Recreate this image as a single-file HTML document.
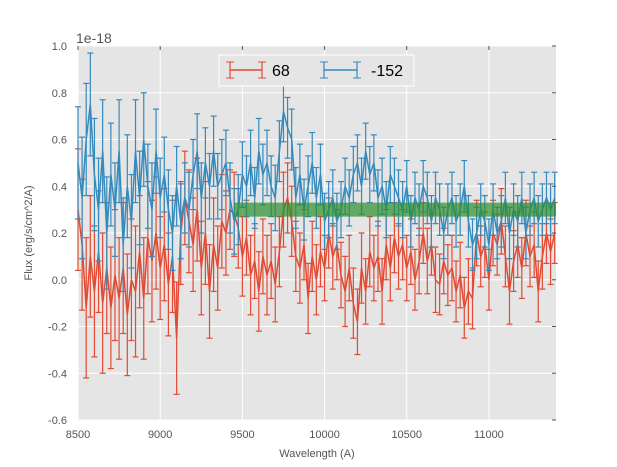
<!DOCTYPE html>
<html><head><meta charset="utf-8"><style>
body{margin:0;background:#fff;}
svg{display:block;font-family:"Liberation Sans",sans-serif;}
</style></head><body>
<svg id="chart" width="617" height="467">
<rect x="78" y="46" width="478" height="374" fill="#e5e5e5"/>
<g id="grid"></g>
<g id="marks"></g>
<g id="axes"></g>
<g>
<rect x="219" y="55" width="195" height="31" fill="#e5e5e5" stroke="#fff" stroke-width="1"/>
<g>
<line x1="230" y1="70" x2="262" y2="70" stroke="#E24A33" stroke-width="1.5"/>
<line x1="230" y1="62" x2="230" y2="78" stroke="#E24A33" stroke-width="1.2"/>
<line x1="262" y1="62" x2="262" y2="78" stroke="#E24A33" stroke-width="1.2"/>
<line x1="226" y1="62" x2="234" y2="62" stroke="#E24A33"/><line x1="226" y1="78" x2="234" y2="78" stroke="#E24A33"/>
<line x1="258" y1="62" x2="266" y2="62" stroke="#E24A33"/><line x1="258" y1="78" x2="266" y2="78" stroke="#E24A33"/>
<text x="272" y="76" font-size="16" fill="#000">68</text>
</g>
<g>
<line x1="324" y1="70" x2="357" y2="70" stroke="#348ABD" stroke-width="1.5"/>
<line x1="324" y1="62" x2="324" y2="78" stroke="#348ABD" stroke-width="1.2"/>
<line x1="357" y1="62" x2="357" y2="78" stroke="#348ABD" stroke-width="1.2"/>
<line x1="320" y1="62" x2="328" y2="62" stroke="#348ABD"/><line x1="320" y1="78" x2="328" y2="78" stroke="#348ABD"/>
<line x1="353" y1="62" x2="361" y2="62" stroke="#348ABD"/><line x1="353" y1="78" x2="361" y2="78" stroke="#348ABD"/>
<text x="371" y="76" font-size="16" fill="#000">-152</text>
</g>
</g>
<text x="76" y="43" font-size="14" fill="#555">1e-18</text>
<text x="317" y="457" font-size="11" fill="#555" text-anchor="middle">Wavelength (A)</text>
<text transform="translate(32,233) rotate(-90)" font-size="11" fill="#555" text-anchor="middle">Flux (erg/s/cm^2/A)</text>
</svg>
<script>
const wlStart = 8500, wlStep = 25;
const redVals = [0.30,0.15,-0.12,0.10,-0.05,0.12,-0.10,0.05,-0.12,0.02,-0.08,0.05,-0.15,0.00,-0.05,0.12,-0.08,0.18,0.08,0.20,0.05,0.15,-0.02,0.10,-0.25,0.20,0.35,0.25,0.15,0.30,0.05,0.20,-0.05,0.15,0.05,0.25,0.20,0.30,0.28,0.22,0.10,0.18,0.02,0.08,-0.05,0.10,0.02,0.08,-0.02,0.12,0.30,0.35,0.25,0.10,0.05,0.15,-0.08,0.10,0.00,0.12,0.05,0.20,0.10,0.15,0.02,-0.05,0.05,-0.10,-0.18,0.05,-0.05,0.12,0.05,0.10,-0.05,0.15,0.05,0.18,0.10,0.15,0.05,0.12,0.00,0.08,0.20,0.08,0.15,0.00,-0.02,0.08,0.02,0.05,-0.05,0.02,-0.12,-0.05,-0.08,0.20,0.10,0.15,0.00,0.20,0.15,0.25,0.10,-0.05,0.08,0.15,0.05,0.20,0.10,0.15,-0.05,0.10,0.20,0.12,0.20];
const redErr = [0.26,0.28,0.30,0.26,0.28,0.26,0.30,0.28,0.26,0.28,0.26,0.28,0.26,0.26,0.28,0.24,0.26,0.24,0.26,0.24,0.22,0.24,0.22,0.24,0.24,0.22,0.20,0.22,0.20,0.22,0.20,0.22,0.20,0.20,0.18,0.20,0.18,0.17,0.18,0.17,0.17,0.16,0.17,0.16,0.17,0.16,0.17,0.16,0.16,0.15,0.16,0.15,0.15,0.15,0.15,0.15,0.15,0.15,0.15,0.15,0.14,0.15,0.14,0.15,0.14,0.15,0.14,0.15,0.14,0.15,0.14,0.15,0.14,0.15,0.14,0.15,0.14,0.15,0.14,0.15,0.14,0.14,0.13,0.14,0.13,0.14,0.13,0.14,0.13,0.14,0.13,0.14,0.13,0.14,0.13,0.14,0.13,0.14,0.13,0.14,0.13,0.14,0.13,0.14,0.13,0.14,0.13,0.14,0.13,0.14,0.13,0.14,0.13,0.14,0.13,0.14,0.13];
const blueVals = [0.50,0.35,0.60,0.75,0.45,0.30,0.55,0.20,0.45,0.30,0.55,0.15,0.40,0.25,0.55,0.35,0.60,0.40,0.30,0.55,0.35,0.45,0.30,0.20,0.40,0.25,0.35,0.30,0.45,0.55,0.35,0.50,0.40,0.55,0.40,0.45,0.50,0.35,0.25,0.30,0.45,0.40,0.50,0.35,0.55,0.45,0.50,0.40,0.35,0.55,0.72,0.65,0.60,0.35,0.45,0.30,0.40,0.50,0.35,0.45,0.25,0.30,0.35,0.25,0.30,0.40,0.35,0.45,0.50,0.40,0.55,0.45,0.50,0.35,0.40,0.30,0.45,0.40,0.35,0.30,0.40,0.25,0.35,0.30,0.40,0.35,0.25,0.35,0.30,0.20,0.30,0.35,0.25,0.30,0.40,0.25,0.15,0.20,0.30,0.25,0.15,0.30,0.20,0.25,0.35,0.20,0.30,0.25,0.35,0.20,0.30,0.35,0.25,0.30,0.35,0.30,0.35];
const blueErr = [0.24,0.26,0.24,0.22,0.24,0.22,0.22,0.24,0.22,0.20,0.22,0.20,0.22,0.20,0.22,0.20,0.20,0.18,0.20,0.18,0.17,0.16,0.17,0.16,0.17,0.16,0.15,0.16,0.15,0.16,0.15,0.15,0.14,0.15,0.14,0.15,0.14,0.15,0.14,0.15,0.14,0.13,0.14,0.13,0.14,0.13,0.14,0.13,0.14,0.13,0.13,0.13,0.13,0.13,0.13,0.13,0.13,0.13,0.13,0.13,0.12,0.12,0.12,0.12,0.12,0.12,0.12,0.12,0.12,0.12,0.12,0.12,0.12,0.12,0.12,0.12,0.12,0.12,0.12,0.12,0.11,0.11,0.11,0.11,0.11,0.11,0.11,0.11,0.11,0.11,0.11,0.11,0.11,0.11,0.11,0.11,0.11,0.11,0.11,0.11,0.11,0.11,0.11,0.11,0.11,0.11,0.11,0.11,0.11,0.11,0.11,0.11,0.11,0.11,0.11,0.11,0.11];
const bandRange = [9450, 11410];
const bandFlux = [0.27, 0.33];
const xTicks = [8500, 9000, 9500, 10000, 10500, 11000];
const yTicks = [-0.6, -0.4, -0.2, 0.0, 0.2, 0.4, 0.6, 0.8, 1.0];
const yTickLabels = ["-0.6","-0.4","-0.2","0.0","0.2","0.4","0.6","0.8","1.0"];

const X0=78,X1=556,Y0=46,Y1=420, xMin=8500,xMax=11408,yMin=-0.6,yMax=1.0;
const sx=v=>X0+(v-xMin)/(xMax-xMin)*(X1-X0);
const sy=v=>Y1-(v-yMin)/(yMax-yMin)*(Y1-Y0);
const NS="http://www.w3.org/2000/svg";
function mk(tag,attrs,parent){const e=document.createElementNS(NS,tag);for(const k in attrs)e.setAttribute(k,attrs[k]);parent.appendChild(e);return e;}
const grid=document.getElementById('grid'),marks=document.getElementById('marks'),axes=document.getElementById('axes');
xTicks.forEach(t=>{
  const l=mk('line',{x1:sx(t),x2:sx(t),y1:Y0,y2:Y1,stroke:'#fff','stroke-width':1},grid);
  
  
  const tx=mk('text',{x:sx(t),y:Y1+18,'font-size':11,fill:'#555','text-anchor':'middle'},axes);
  tx.textContent=t;
  
  
  mk('line',{x1:sx(t),x2:sx(t),y1:Y0,y2:Y0+4,stroke:'#555'},axes);
});
yTicks.forEach((t,i)=>{
  const l=mk('line',{x1:X0,x2:X1,y1:sy(t),y2:sy(t),stroke:'#fff','stroke-width':1},grid);
  
  
  const tx=mk('text',{x:X0-11,y:sy(t)+4,'font-size':11,fill:'#555','text-anchor':'end'},axes);
  tx.textContent=yTickLabels[i];
  
  
  mk('line',{x1:X1-4,x2:X1,y1:sy(t),y2:sy(t),stroke:'#555'},axes);
});
function series(vals,errs,color,name){
  const g=mk('g',{},marks);
  
  
  const n=Math.min(vals.length,errs.length);
  let d='';
  for(let i=0;i<n;i++){
    const x=sx(wlStart+i*wlStep); if(x>X1+1)break;
    const y=sy(vals[i]);
    d+=(i?'L':'M')+x.toFixed(1)+','+y.toFixed(1);
    const yt=sy(vals[i]+errs[i]),yb=sy(vals[i]-errs[i]);
    mk('line',{x1:x,x2:x,y1:yt,y2:yb,stroke:color,'stroke-width':1.2},g);
    mk('line',{x1:x-3,x2:x+3,y1:yt,y2:yt,stroke:color,'stroke-width':1.2},g);
    mk('line',{x1:x-3,x2:x+3,y1:yb,y2:yb,stroke:color,'stroke-width':1.2},g);
  }
  const p=mk('path',{d:d,fill:'none',stroke:color,'stroke-width':1.5},g);
  
  
}
series(redVals,redErr,'#E24A33','series-68');
series(blueVals,blueErr,'#348ABD','series-152');
const band=mk('rect',{x:sx(bandRange[0]),y:sy(bandFlux[1]),width:Math.min(X1,sx(bandRange[1]))-sx(bandRange[0]),height:sy(bandFlux[0])-sy(bandFlux[1]),fill:'#2e8f2e','fill-opacity':0.7},marks);


</script>
</body></html>
